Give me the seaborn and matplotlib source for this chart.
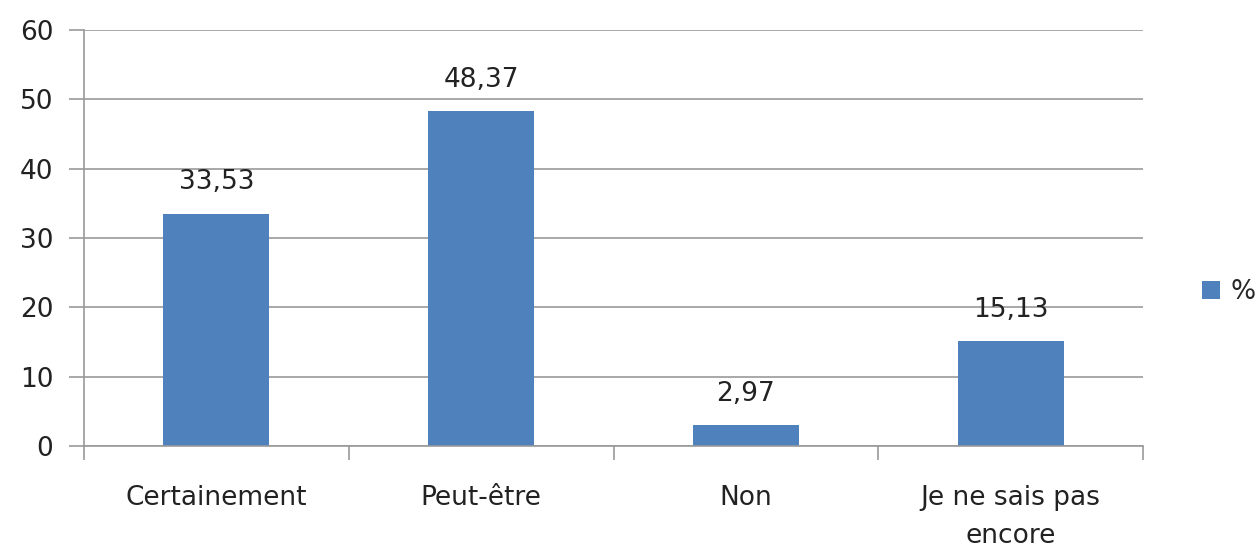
import matplotlib
matplotlib.use("Agg")
import matplotlib.pyplot as plt
import seaborn as sns
import pandas as pd

categories = ["Certainement", "Peut-être", "Non", "Je ne sais pas\nencore"]
values = [33.53, 48.37, 2.97, 15.13]
labels = ["33,53", "48,37", "2,97", "15,13"]
yticks = [0, 10, 20, 30, 40, 50, 60]

sns.set_style("white")
plt.rcParams['font.family'] = ['DejaVu Sans']

df = pd.DataFrame({"cat": categories, "val": values, "serie": "%"})

fig = plt.figure(figsize=(12.59, 5.5), dpi=100)
ax = fig.add_axes([84/1259, 1 - 446/550, (1143-84)/1259, (446-30)/550])

sns.barplot(data=df, x="cat", y="val", hue="serie", palette=["#4F81BD"],
            width=0.4, ax=ax, saturation=1, legend=True, edgecolor="none", linewidth=0)

fs = 19
for i, (v, lab) in enumerate(zip(values, labels)):
    ax.text(i, v + 2.6, lab, ha="center", va="bottom", fontsize=fs, color="#222222")

ax.set_ylim(0, 60)
ax.set_xlim(-0.5, 3.5)
ax.set_yticks(yticks)
ax.set_yticklabels([str(t) for t in yticks], fontsize=fs, color="#222222")
ax.yaxis.grid(True, color="#999999", linewidth=1.2)
ax.set_axisbelow(True)
ax.tick_params(axis="y", left=True, length=11, color="#999999", width=1.2, pad=11)

ax.set_xticks([-0.5, 0.5, 1.5, 2.5, 3.5])
ax.set_xticklabels([])
ax.set_xticks([0, 1, 2, 3], minor=True)
ax.set_xticklabels(categories, minor=True, fontsize=fs, color="#222222", linespacing=1.6)
ax.tick_params(axis="x", which="major", bottom=True, length=10, color="#999999", width=1.2, direction="out")
ax.tick_params(axis="x", which="minor", bottom=True, length=0, pad=28)

for s in ["top", "right"]:
    ax.spines[s].set_visible(False)
for s in ["left", "bottom"]:
    ax.spines[s].set_color("#999999")
    ax.spines[s].set_linewidth(1.2)

ax.set_xlabel("")
ax.set_ylabel("")
ax.legend(loc="center left", bbox_to_anchor=(1.033, 0.37), frameon=False,
          fontsize=fs, handlelength=0.7, handleheight=0.7, handletextpad=0.4)

fig.savefig("out.png", dpi=100)
